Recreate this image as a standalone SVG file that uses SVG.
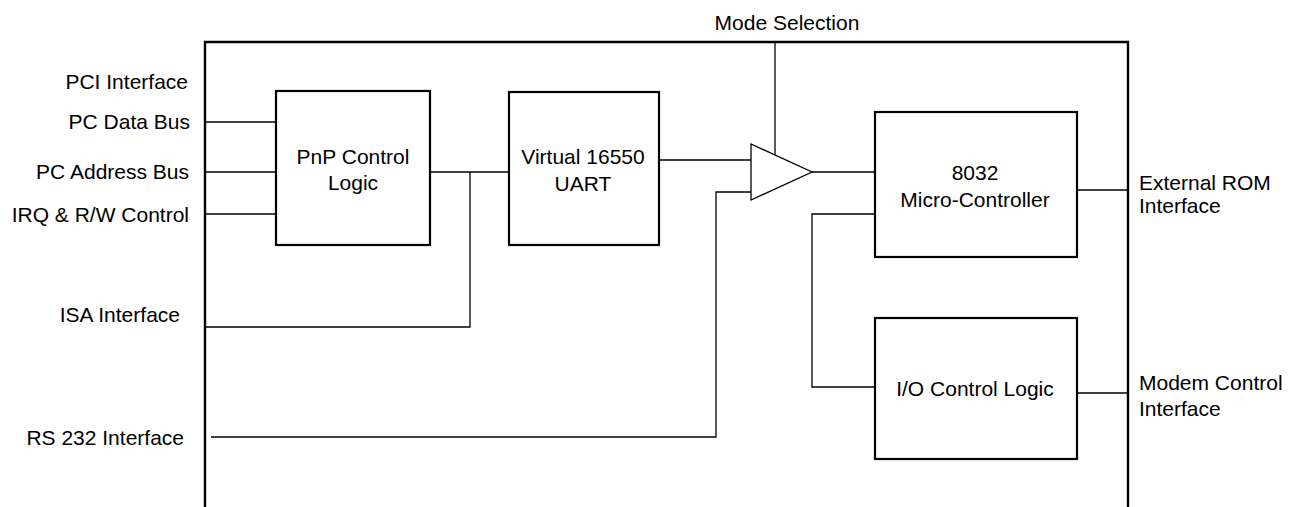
<svg xmlns="http://www.w3.org/2000/svg" width="1293" height="507" viewBox="0 0 1293 507">
<style>
text{font-family:"Liberation Sans",Arial,sans-serif;font-size:21px;fill:#000}
.box{fill:#fff;stroke:#000;stroke-width:2.2}
.frame{fill:none;stroke:#000;stroke-width:2.4}
.wire{fill:none;stroke:#000;stroke-width:1.3}
.l{text-anchor:end}
.c{text-anchor:middle}
</style>
<rect x="0" y="0" width="1293" height="507" fill="#fff"/>
<g id="frame">
<path class="frame" d="M205,507 V42 H1128 V507"/>
</g>
<g id="connectors">
<path class="wire" d="M205,122 H276"/>
<path class="wire" d="M205,172 H276"/>
<path class="wire" d="M205,214 H276"/>
<path class="wire" d="M430,172 H509"/>
<path class="wire" d="M205,327 H470 V172"/>
<path class="wire" d="M659,160 H751"/>
<path class="wire" d="M211,437 H716 V192 H751"/>
<path class="wire" d="M775,42 V155"/>
<path class="wire" d="M812,172 H875"/>
<path class="wire" d="M875,214 H812 V387 H875"/>
<path class="wire" d="M1077,190 H1128"/>
<path class="wire" d="M1077,393 H1128"/>
</g>
<g id="pnp">
<rect class="box" x="276" y="91" width="154" height="154"/>
<text class="c" x="353" y="164">PnP Control</text>
<text class="c" x="353" y="190">Logic</text>
</g>
<g id="uart">
<rect class="box" x="509" y="92" width="150" height="153"/>
<text class="c" x="583" y="164">Virtual 16550</text>
<text class="c" x="583" y="190.5">UART</text>
</g>
<g id="mux">
<polygon points="751,144 751,200 812,172" fill="#fff" stroke="#000" stroke-width="1.3"/>
</g>
<g id="micro">
<rect class="box" x="875" y="112" width="202" height="145"/>
<text class="c" x="975" y="180">8032</text>
<text class="c" x="975" y="206.5">Micro-Controller</text>
</g>
<g id="io">
<rect class="box" x="875" y="318" width="202" height="141"/>
<text class="c" x="975" y="395.5">I/O Control Logic</text>
</g>
<g id="labels">
<text class="l" x="188" y="89">PCI Interface</text>
<text class="l" x="190" y="129">PC Data Bus</text>
<text class="l" x="189" y="179">PC Address Bus</text>
<text class="l" x="189" y="222">IRQ &amp; R/W Control</text>
<text class="l" x="180" y="322">ISA Interface</text>
<text class="l" x="184" y="445">RS 232 Interface</text>
<text class="c" x="787" y="30">Mode Selection</text>
<text x="1139" y="190">External ROM</text>
<text x="1139" y="213">Interface</text>
<text x="1139" y="390">Modem Control</text>
<text x="1139" y="416">Interface</text>
</g>
</svg>
